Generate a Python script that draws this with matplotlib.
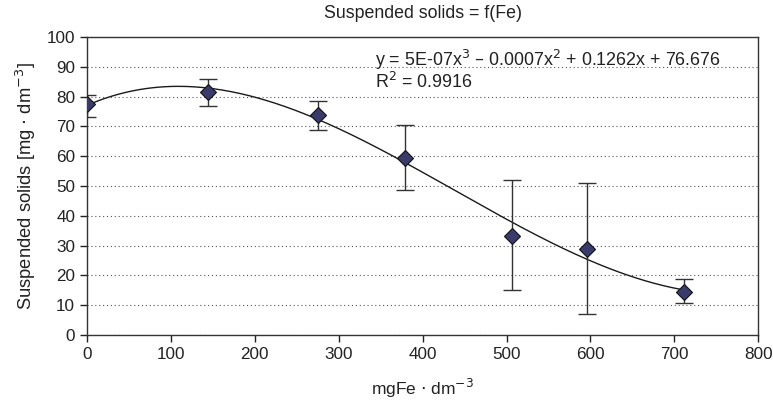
import numpy as np
import matplotlib
matplotlib.use("Agg")
import matplotlib.pyplot as plt

plt.rcParams['font.family'] = ['Liberation Sans', 'DejaVu Sans']

# measured points
fe = [0, 144, 275, 379, 507, 596, 711]
solids = [77.4, 81.5, 73.7, 59.4, 33.2, 28.8, 14.5]
err_up = [80.5, 86.0, 78.6, 70.4, 51.9, 51.1, 18.8]
err_low = [73.0, 76.7, 68.8, 48.8, 15.1, 6.9, 10.7]

x_ticks = [0, 100, 200, 300, 400, 500, 600, 700, 800]
y_ticks = [0, 10, 20, 30, 40, 50, 60, 70, 80, 90, 100]

fe = np.array(fe)
solids = np.array(solids)
yerr = [solids - np.array(err_low), np.array(err_up) - solids]

# polynomial trend line (order 3), like the spreadsheet one
coef = np.polyfit(fe, solids, 3)
xs = np.linspace(fe.min(), fe.max(), 200)
ys = np.polyval(coef, xs)

fig = plt.figure(figsize=(7.73, 4.05), dpi=100)
ax = fig.add_axes([0.1125, 0.1728, 0.8685, 0.7358])

ax.plot(xs, ys, color="#1a1a1a", lw=1.0, zorder=2)
ax.errorbar(fe, solids, yerr=yerr, fmt="none", ecolor="#333333",
            elinewidth=1.0, capsize=6.5, capthick=1.0, zorder=3)
ax.plot(fe, solids, "D", ms=8.5, color="#3b3b6b", mec="#111111",
        mew=0.8, zorder=4)

ax.set_xlim(0, 800)
ax.set_ylim(0, 100)
ax.set_xticks(x_ticks)
ax.set_yticks(y_ticks)
ax.tick_params(labelsize=12.3, colors="#222222", length=5, width=1,
               direction="out")
ax.yaxis.grid(True, linestyle=(0, (1, 2.5)), color="#555555", lw=0.8)
for s in ax.spines.values():
    s.set_color("#333333")
    s.set_linewidth(1.0)

ax.set_title("Suspended solids = f(Fe)", fontsize=12.8, color="#222222",
             pad=14)
ax.set_ylabel("Suspended solids [mg $\\cdot$ dm$^{-3}$]", fontsize=13.2,
              color="#222222", labelpad=6)
ax.set_xlabel("mgFe $\\cdot$ dm$^{-3}$", fontsize=12.5, color="#222222",
              labelpad=11)

ax.text(343, 92.2, "y = 5E-07x$^3$ \u2013 0.0007x$^2$ + 0.1262x + 76.676",
        fontsize=12.9, color="#222222", va="center")
ax.text(343, 85.0, "R$^2$ = 0.9916", fontsize=12.9, color="#222222",
        va="center")

fig.savefig("out.png", dpi=100)
